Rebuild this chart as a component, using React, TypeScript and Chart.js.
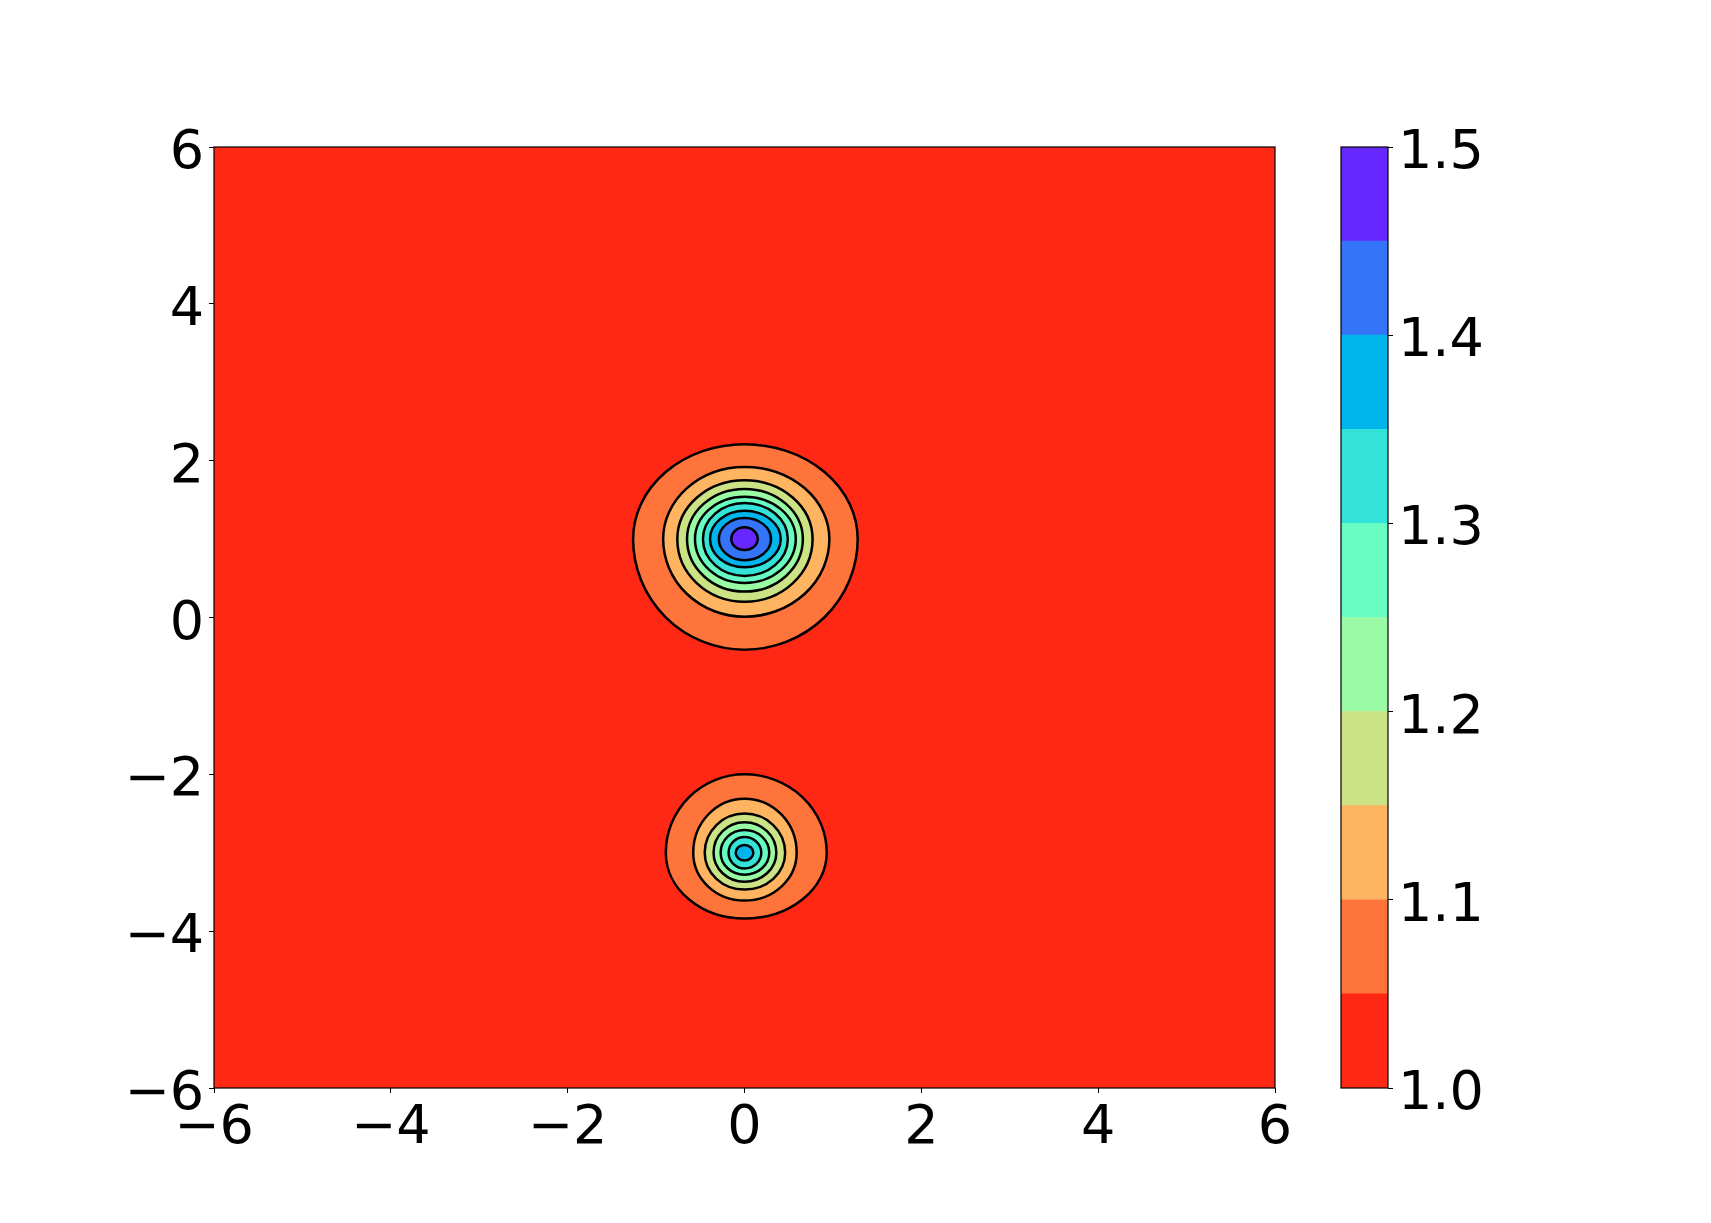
import React, { useEffect, useRef } from "react";
import { Chart, registerables } from "chart.js";

Chart.register(...registerables);

// Contour levels (colorbar boundaries)
const levels = [1.0, 1.05, 1.1, 1.15, 1.2, 1.25, 1.3, 1.35, 1.4, 1.45, 1.5];
// Fill colours for each band (rainbow_r)
const bandColors = [
  "#ff2814", "#ff743b", "#ffb462", "#cce385", "#99fca5",
  "#66fcc2", "#33e3da", "#00b4ec", "#3374f8", "#6628fe",
];
const axisTicks = [-6, -4, -2, 0, 2, 4, 6];
const colorbarTicks = [1.0, 1.1, 1.2, 1.3, 1.4, 1.5];

// Upper peak: centre and extent of each contour line (levels 1.05 .. 1.45) from the centre
const bigCenter = [0, 1];
const bigLeft = [1.26, 0.92, 0.76, 0.65, 0.56, 0.47, 0.39, 0.29, 0.15];
const bigRight = [1.28, 0.96, 0.77, 0.66, 0.58, 0.49, 0.41, 0.3, 0.15];
const bigTop = [1.21, 0.92, 0.75, 0.64, 0.54, 0.46, 0.36, 0.27, 0.15];
const bigBottom = [1.41, 0.99, 0.8, 0.67, 0.56, 0.47, 0.36, 0.27, 0.14];

// Lower peak: contour lines (levels 1.05 .. 1.35)
const smallCenter = [0, -3];
const smallLeft = [0.89, 0.58, 0.45, 0.35, 0.27, 0.18, 0.1];
const smallRight = [0.93, 0.59, 0.46, 0.36, 0.28, 0.19, 0.1];
const smallTop = [1.0, 0.69, 0.5, 0.39, 0.29, 0.2, 0.1];
const smallBottom = [0.84, 0.61, 0.47, 0.37, 0.28, 0.2, 0.1];

const FONT = { family: "DejaVu Sans", size: 54 };
const fmtMinus = (v: number) => (v < 0 ? "\u2212" + Math.abs(v) : String(v));

const blobs = [
  { c: bigCenter, l: bigLeft, r: bigRight, t: bigTop, b: bigBottom },
  { c: smallCenter, l: smallLeft, r: smallRight, t: smallTop, b: smallBottom },
];

const contourPlugin = {
  id: "contourRings",
  beforeDatasetsDraw(chart: any) {
    const { ctx, chartArea: a, scales } = chart;
    const xs = scales.x;
    const ys = scales.y;
    ctx.save();
    ctx.beginPath();
    ctx.rect(a.left, a.top, a.right - a.left, a.bottom - a.top);
    ctx.clip();
    ctx.fillStyle = bandColors[0];
    ctx.fillRect(a.left, a.top, a.right - a.left, a.bottom - a.top);
    blobs.forEach((bl) => {
      const cx = xs.getPixelForValue(bl.c[0]);
      const cy = ys.getPixelForValue(bl.c[1]);
      bl.l.forEach((_: number, i: number) => {
        const rl = cx - xs.getPixelForValue(bl.c[0] - bl.l[i]);
        const rr = xs.getPixelForValue(bl.c[0] + bl.r[i]) - cx;
        const rt = cy - ys.getPixelForValue(bl.c[1] + bl.t[i]);
        const rb = ys.getPixelForValue(bl.c[1] - bl.b[i]) - cy;
        ctx.beginPath();
        ctx.ellipse(cx, cy, rr, rb, 0, 0, Math.PI / 2);
        ctx.ellipse(cx, cy, rl, rb, 0, Math.PI / 2, Math.PI);
        ctx.ellipse(cx, cy, rl, rt, 0, Math.PI, 1.5 * Math.PI);
        ctx.ellipse(cx, cy, rr, rt, 0, 1.5 * Math.PI, 2 * Math.PI);
        ctx.closePath();
        ctx.fillStyle = bandColors[i + 1];
        ctx.fill();
        ctx.lineWidth = 2.5;
        ctx.strokeStyle = "#000";
        ctx.stroke();
      });
    });
    ctx.restore();
  },
};

const framePlugin = {
  id: "frame",
  afterDraw(chart: any) {
    const { ctx, chartArea: a } = chart;
    ctx.save();
    ctx.strokeStyle = "#000";
    ctx.lineWidth = 1.2;
    ctx.strokeRect(a.left, a.top, a.right - a.left, a.bottom - a.top);
    ctx.restore();
  },
};

export default function App() {
  const mainRef = useRef<HTMLCanvasElement>(null);
  const cbRef = useRef<HTMLCanvasElement>(null);

  useEffect(() => {
    const main = new Chart(mainRef.current as HTMLCanvasElement, {
      type: "scatter",
      data: { datasets: [] },
      options: {
        responsive: false,
        animation: false,
        layout: { padding: { left: 14, top: 147, right: 436, bottom: 35 } },
        plugins: { legend: { display: false }, tooltip: { enabled: false } },
        scales: {
          x: {
            type: "linear",
            min: axisTicks[0],
            max: axisTicks[axisTicks.length - 1],
            afterBuildTicks: (s: any) => {
              s.ticks = axisTicks.map((v) => ({ value: v }));
            },
            afterFit: (s: any) => {
              s.height = 100;
            },
            ticks: {
              autoSkip: false,
              maxRotation: 0,
              color: "#000",
              font: FONT,
              padding: 4,
              callback: (v: any) => fmtMinus(Number(v)),
            },
            grid: { drawOnChartArea: false, tickLength: 5, color: "#000" },
            border: { display: false },
          },
          y: {
            type: "linear",
            min: axisTicks[0],
            max: axisTicks[axisTicks.length - 1],
            afterBuildTicks: (s: any) => {
              s.ticks = axisTicks.map((v) => ({ value: v }));
            },
            afterFit: (s: any) => {
              s.width = 200;
            },
            ticks: {
              autoSkip: false,
              color: "#000",
              font: FONT,
              padding: 5,
              labelOffset: 7,
              callback: (v: any) => fmtMinus(Number(v)),
            },
            grid: { drawOnChartArea: false, tickLength: 5, color: "#000" },
            border: { display: false },
          },
        },
      },
      plugins: [contourPlugin, framePlugin],
    } as any);

    const cb = new Chart(cbRef.current as HTMLCanvasElement, {
      type: "bar",
      data: {
        labels: [""],
        datasets: bandColors.map((c, i) => ({
          data: [[levels[i], levels[i + 1]]],
          backgroundColor: c,
          borderWidth: 0,
          barPercentage: 1,
          categoryPercentage: 1,
          grouped: false,
        })),
      },
      options: {
        responsive: false,
        animation: false,
        layout: { padding: { left: 10, top: 147, right: 0, bottom: 135 } },
        plugins: { legend: { display: false }, tooltip: { enabled: false } },
        scales: {
          x: { display: false },
          y: {
            position: "right",
            min: levels[0],
            max: levels[levels.length - 1],
            afterBuildTicks: (s: any) => {
              s.ticks = colorbarTicks.map((v) => ({ value: v }));
            },
            afterFit: (s: any) => {
              s.width = 200;
            },
            ticks: {
              autoSkip: false,
              color: "#000",
              font: FONT,
              padding: 5,
              labelOffset: 7,
              callback: (v: any) => Number(v).toFixed(1),
            },
            grid: { drawOnChartArea: false, tickLength: 5, color: "#000" },
            border: { display: false },
          },
        },
      },
      plugins: [framePlugin],
    } as any);

    return () => {
      main.destroy();
      cb.destroy();
    };
  }, []);

  return (
    <div style={{ position: "absolute", left: 0, top: 0, width: 1711, height: 1223, background: "#fff" }}>
      <canvas
        ref={mainRef}
        width={1711}
        height={1223}
        style={{ position: "absolute", left: 0, top: 0, width: 1711, height: 1223 }}
      />
      <canvas
        ref={cbRef}
        width={257}
        height={1223}
        style={{ position: "absolute", left: 1331, top: 0, width: 257, height: 1223 }}
      />
    </div>
  );
}
